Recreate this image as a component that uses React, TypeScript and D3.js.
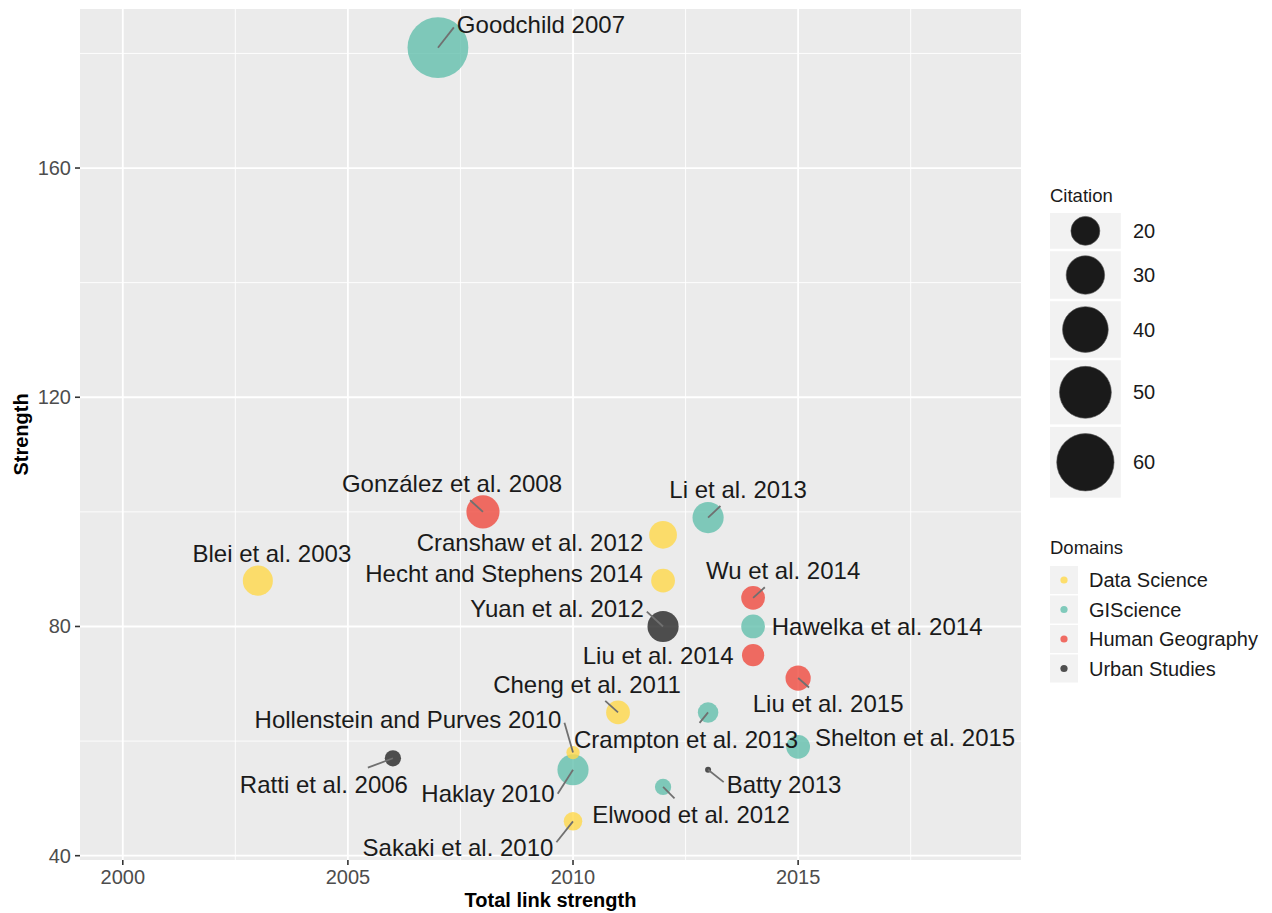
import * as d3 from "d3";
import React, { useLayoutEffect, useRef, useState } from "react";

// papers, in drawing order
const papers = [
  "Goodchild 2007",
  "González et al. 2008",
  "Li et al. 2013",
  "Cranshaw et al. 2012",
  "Blei et al. 2003",
  "Hecht and Stephens 2014",
  "Wu et al. 2014",
  "Yuan et al. 2012",
  "Hawelka et al. 2014",
  "Liu et al. 2014",
  "Liu et al. 2015",
  "Cheng et al. 2011",
  "Crampton et al. 2013",
  "Haklay 2010",
  "Hollenstein and Purves 2010",
  "Shelton et al. 2015",
  "Ratti et al. 2006",
  "Batty 2013",
  "Elwood et al. 2012",
  "Sakaki et al. 2010",
];
const years = [2007, 2008, 2013, 2012, 2003, 2012, 2014, 2012, 2014, 2014, 2015, 2011, 2013, 2010, 2010, 2015, 2006, 2013, 2012, 2010];
const strengths = [181, 100, 99, 96, 88, 88, 85, 80, 80, 75, 71, 65, 65, 55, 58, 59, 57, 55, 52, 46];
const citations = [67, 24, 22, 19, 21, 16, 16, 22, 16, 15, 17, 16, 14, 22, 11, 16, 12, 10, 12, 13];
const domains = [
  "GIScience", "Human Geography", "GIScience", "Data Science", "Data Science",
  "Data Science", "Human Geography", "Urban Studies", "GIScience", "Human Geography",
  "Human Geography", "Data Science", "GIScience", "GIScience", "Data Science",
  "GIScience", "Urban Studies", "Urban Studies", "GIScience", "Data Science",
];

const domainNames = ["Data Science", "GIScience", "Human Geography", "Urban Studies"];
const domainColors = ["#FFD84A", "#63BFAC", "#EF4A3E", "#252525"];
const citationBreaks = [20, 30, 40, 50, 60];
const xBreaks = [2000, 2005, 2010, 2015];
const yBreaks = [40, 80, 120, 160];
const xLimits = [2000, 2019];

// where the repelled labels ended up, relative to their point (px)
const labelDx = [103, -31, 30, -133, 14, -159, 30, -106, 124, -95, 30, -31, -22, -85, -165, 117, -69, 76, 28, -115];
const labelDy = [-23.5, -28, -28, 8, -27, -7, -27, -18, 0, 0, 26, -28, 27, 24, -33, -9, 26, 15, 28, 26];
const labelSegment = [true, true, true, false, false, false, true, true, false, false, true, true, true, true, true, false, true, true, true, true];
// where a segment meets its label box (fraction of half-size); null = along the ray to the centre
const segAnchor: ([number, number] | null)[] = [
  [-1, 0.2], null, null, null, null, null, null, [1, 0.2], null, null,
  null, null, null, [1, 0], [1, 0.2], null, null, [-1, -0.15], null, [1, -0.3],
];

const W = 1272;
const H = 913;
const panel = { left: 80, right: 1021, top: 9, bottom: 860 };
const FONT = "'Liberation Sans', Arial, Helvetica, sans-serif";
const labelSize = 24;

// first point where the ray from (px,py) to the box centre enters the box
function boxHit(px: number, py: number, cx: number, cy: number, hw: number, hh: number) {
  const dx = cx - px;
  const dy = cy - py;
  const tx = dx === 0 ? 0 : (Math.abs(dx) - hw) / Math.abs(dx);
  const ty = dy === 0 ? 0 : (Math.abs(dy) - hh) / Math.abs(dy);
  const t = Math.max(tx, ty, 0);
  return [px + dx * t, py + dy * t];
}

type Seg = { key: string; x1: number; y1: number; x2: number; y2: number };

export default function App() {
  const textRefs = useRef<(SVGTextElement | null)[]>([]);
  const [segs, setSegs] = useState<Seg[]>([]);

  const xPad = (xLimits[1] - xLimits[0]) * 0.05;
  const x = d3
    .scaleLinear()
    .domain([xLimits[0] - xPad, xLimits[1] + xPad])
    .range([panel.left, panel.right]);

  const [yMin, yMax] = d3.extent(strengths) as [number, number];
  const yPad = (yMax - yMin) * 0.05;
  const y = d3
    .scaleLinear()
    .domain([yMin - yPad, yMax + yPad])
    .range([panel.bottom, panel.top]);

  const [cMin, cMax] = d3.extent(citations) as [number, number];
  const rLin = d3.scaleLinear().domain([0, 1]).range([3, 30.4]);
  const r = (c: number) => rLin(Math.sqrt(Math.max(0, (c - cMin) / (cMax - cMin))));

  const color = d3.scaleOrdinal<string, string>().domain(domainNames).range(domainColors);

  const [xd0, xd1] = x.domain();
  const [yd0, yd1] = y.domain();
  const xMinor = d3.range(1997.5, 2025, 5).filter((v) => v > xd0 && v < xd1);
  const yMinor = d3.range(20, 220, 40).filter((v) => v > yd0 && v < yd1);

  const labels = papers.map((p, i) => {
    const px = x(years[i]);
    const py = y(strengths[i]);
    return { p, px, py, cx: px + labelDx[i], cy: py + labelDy[i], seg: labelSegment[i] };
  });

  // segments run from the point to the edge of the rendered label box
  useLayoutEffect(() => {
    const out: Seg[] = [];
    labels.forEach((l, i) => {
      const node = textRefs.current[i];
      if (!l.seg || !node) return;
      const b = node.getBBox();
      const pad = 3;
      const hw = b.width / 2 + pad;
      const hh = b.height / 2 + pad;
      const bx = b.x + b.width / 2;
      const by = b.y + b.height / 2;
      const a = segAnchor[i];
      const [ex, ey] = a ? [bx + a[0] * hw, by + a[1] * hh] : boxHit(l.px, l.py, bx, by, hw, hh);
      out.push({ key: l.p, x1: l.px, y1: l.py, x2: ex, y2: ey });
    });
    setSegs(out);
  }, []); // eslint-disable-line react-hooks/exhaustive-deps

  // citation legend keys
  let acc = 213;
  const sizeKeys = citationBreaks.map((c) => {
    const rad = r(c);
    const h = 2 * rad * 1.235;
    const k = { c, rad, top: acc, h };
    acc += h + 2.5;
    return k;
  });
  const keyW = d3.max(sizeKeys, (k) => k.h) as number;

  return (
    <svg
      width={W}
      height={H}
      style={{ position: "absolute", left: 0, top: 0, display: "block", background: "#fff" }}
      fontFamily={FONT}
    >
      <rect
        x={panel.left}
        y={panel.top}
        width={panel.right - panel.left}
        height={panel.bottom - panel.top}
        fill="#EBEBEB"
      />
      {/* minor grid */}
      {xMinor.map((v) => (
        <line key={"xm" + v} x1={x(v)} x2={x(v)} y1={panel.top} y2={panel.bottom} stroke="#fff" strokeWidth={0.9} />
      ))}
      {yMinor.map((v) => (
        <line key={"ym" + v} x1={panel.left} x2={panel.right} y1={y(v)} y2={y(v)} stroke="#fff" strokeWidth={0.9} />
      ))}
      {/* major grid */}
      {xBreaks.map((v) => (
        <line key={"xg" + v} x1={x(v)} x2={x(v)} y1={panel.top} y2={panel.bottom} stroke="#fff" strokeWidth={1.8} />
      ))}
      {yBreaks.map((v) => (
        <line key={"yg" + v} x1={panel.left} x2={panel.right} y1={y(v)} y2={y(v)} stroke="#fff" strokeWidth={1.8} />
      ))}

      {/* points */}
      {papers.map((p, i) => (
        <circle
          key={p}
          cx={x(years[i])}
          cy={y(strengths[i])}
          r={r(citations[i])}
          fill={color(domains[i])}
          fillOpacity={0.8}
        />
      ))}

      {/* label segments */}
      {segs.map((s) => (
        <line key={"s" + s.key} x1={s.x1} y1={s.y1} x2={s.x2} y2={s.y2} stroke="#707070" strokeWidth={1.8} />
      ))}
      {/* labels */}
      {labels.map((l, i) => (
        <text
          key={"t" + l.p}
          ref={(el) => {
            textRefs.current[i] = el;
          }}
          x={l.cx}
          y={l.cy + labelSize * 0.35}
          textAnchor="middle"
          fontSize={labelSize}
          fill="#1A1A1A"
        >
          {l.p}
        </text>
      ))}

      {/* axes */}
      {xBreaks.map((v) => (
        <g key={"xt" + v}>
          <line x1={x(v)} x2={x(v)} y1={panel.bottom} y2={panel.bottom + 5} stroke="#333" strokeWidth={1.6} />
          <text x={x(v)} y={884} textAnchor="middle" fontSize={20} fill="#4D4D4D">
            {v}
          </text>
        </g>
      ))}
      {yBreaks.map((v) => (
        <g key={"yt" + v}>
          <line x1={panel.left - 5} x2={panel.left} y1={y(v)} y2={y(v)} stroke="#333" strokeWidth={1.6} />
          <text x={71} y={y(v) + 7} textAnchor="end" fontSize={20} fill="#4D4D4D">
            {v}
          </text>
        </g>
      ))}
      <text
        x={(panel.left + panel.right) / 2}
        y={907}
        textAnchor="middle"
        fontSize={20}
        fontWeight="bold"
        fill="#000"
      >
        Total link strength
      </text>
      <text
        transform={`translate(28, ${(panel.top + panel.bottom) / 2}) rotate(-90)`}
        textAnchor="middle"
        fontSize={20}
        fontWeight="bold"
        fill="#000"
      >
        Strength
      </text>

      {/* size legend */}
      <text x={1050} y={202} fontSize={18.5} fill="#1A1A1A">
        Citation
      </text>
      {sizeKeys.map((k) => (
        <g key={"k" + k.c}>
          <rect x={1050} y={k.top} width={keyW} height={k.h} fill="#F2F2F2" />
          <circle cx={1050 + keyW / 2} cy={k.top + k.h / 2} r={k.rad} fill="#1A1A1A" stroke="#555" strokeWidth={0.6} />
          <text x={1133} y={k.top + k.h / 2 + 7} fontSize={20} fill="#1A1A1A">
            {k.c}
          </text>
        </g>
      ))}

      {/* colour legend */}
      <text x={1050} y={554} fontSize={18.5} fill="#1A1A1A">
        Domains
      </text>
      {domainNames.map((d, i) => {
        const top = 566 + i * 29.5;
        return (
          <g key={"d" + d}>
            <rect x={1050} y={top} width={28} height={28} fill="#F2F2F2" />
            <circle cx={1064} cy={top + 14} r={3.6} fill={color(d)} fillOpacity={0.8} />
            <text x={1089} y={top + 21} fontSize={20} fill="#1A1A1A">
              {d}
            </text>
          </g>
        );
      })}
    </svg>
  );
}
